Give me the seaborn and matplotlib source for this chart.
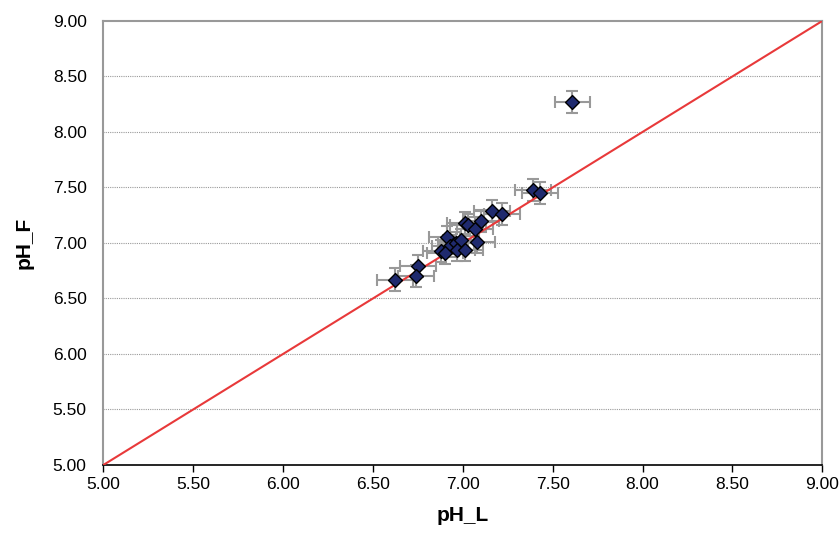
import numpy as np
import pandas as pd
import seaborn as sns
import matplotlib.pyplot as plt

# values
ph_l = [6.62, 6.75, 6.74, 6.88, 6.91, 6.93, 6.90, 6.96, 6.99, 6.97, 7.01, 7.01,
        7.03, 7.07, 7.10, 7.08, 7.16, 7.22, 7.39, 7.43, 7.61]
ph_f = [6.67, 6.79, 6.70, 6.93, 7.05, 6.97, 6.91, 7.00, 7.03, 6.94, 6.94, 7.18,
        7.16, 7.13, 7.20, 7.01, 7.29, 7.26, 7.48, 7.45, 8.27]
err_l = 0.10
err_f = 0.10
line_x = [5.0, 9.0]
line_y = [5.0, 9.0]
ticks = [5.0, 5.5, 6.0, 6.5, 7.0, 7.5, 8.0, 8.5, 9.0]

df = pd.DataFrame({"pH_L": ph_l, "pH_F": ph_f})

sns.set_style("white")
plt.rcParams['font.family'] = ['Liberation Sans', 'DejaVu Sans']
plt.rcParams['text.color'] = 'black'
plt.rcParams['axes.labelcolor'] = 'black'
plt.rcParams['xtick.color'] = 'black'
plt.rcParams['ytick.color'] = 'black'

fig = plt.figure(figsize=(8.4, 5.36), dpi=100)
ax = fig.add_axes([0.123, 0.1325, 0.856, 0.8285])

for t in ticks[1:-1]:
    ax.axhline(t, color="#9a9a9a", lw=0.8, ls=(0, (1, 1)), zorder=0)

ax.errorbar(df["pH_L"], df["pH_F"], xerr=err_l, yerr=err_f, fmt="none",
            ecolor="#999999", elinewidth=1.5, capsize=4, capthick=1.5, zorder=2)
sns.lineplot(x=line_x, y=line_y, ax=ax, color="#e8393a", lw=1.5, zorder=3)
sns.scatterplot(data=df, x="pH_L", y="pH_F", ax=ax, marker="D", s=50,
                color="#1f2a6e", edgecolor="black", linewidth=1.0, zorder=4)

ax.set(xlim=(5, 9), ylim=(5, 9), xticks=ticks, yticks=ticks)
ax.set_xticklabels([f"{t:.2f}" for t in ticks], fontsize=12.5)
ax.set_yticklabels([f"{t:.2f}" for t in ticks], fontsize=12.5)
ax.set_xlabel("pH_L", fontsize=15, fontweight="bold", labelpad=10)
ax.set_ylabel("pH_F", fontsize=15, fontweight="bold", labelpad=14)
ax.tick_params(axis="x", direction="out", length=5, width=1, color="black", bottom=True)
ax.tick_params(axis="y", length=0, pad=12)

for side in ["left", "top", "right"]:
    ax.spines[side].set_color("#999999")
    ax.spines[side].set_linewidth(1.5)
ax.spines["bottom"].set_color("black")
ax.spines["bottom"].set_linewidth(1.2)

plt.savefig("out.png", dpi=100)
